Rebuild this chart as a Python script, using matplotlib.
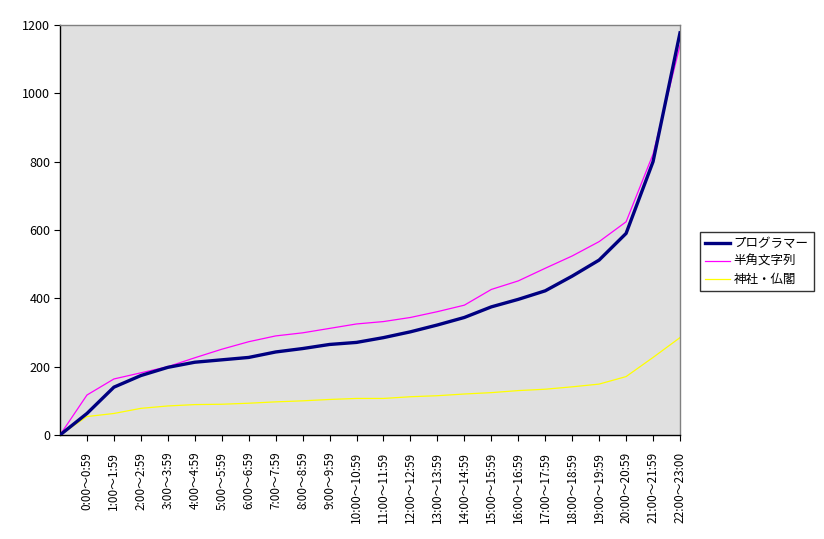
import matplotlib
matplotlib.use("Agg")
import matplotlib.pyplot as plt

plt.rcParams['font.family'] = ['Noto Sans CJK JP', 'DejaVu Sans']

categories = ["", "0:00～0:59", "1:00～1:59", "2:00～2:59", "3:00～3:59", "4:00～4:59",
              "5:00～5:59", "6:00～6:59", "7:00～7:59", "8:00～8:59", "9:00～9:59",
              "10:00～10:59", "11:00～11:59", "12:00～12:59", "13:00～13:59",
              "14:00～14:59", "15:00～15:59", "16:00～16:59", "17:00～17:59",
              "18:00～18:59", "19:00～19:59", "20:00～20:59", "21:00～21:59",
              "22:00～23:00"]

programmer = [0, 63, 140, 174, 198, 213, 220, 227, 243, 253, 265, 271, 285, 302, 322,
              344, 375, 397, 422, 465, 512, 590, 800, 1177]
hankaku = [0, 117, 164, 182, 200, 226, 251, 273, 290, 299, 312, 325, 332, 344, 361,
           380, 426, 451, 488, 524, 566, 624, 822, 1140]
jinja = [0, 54, 63, 78, 85, 89, 90, 93, 97, 100, 104, 107, 107, 112, 115,
         120, 124, 130, 134, 141, 149, 171, 227, 285]

series_names = ["プログラマー", "半角文字列", "神社・仏閣"]

fig = plt.figure(figsize=(8.24, 5.39), dpi=100)
ax = fig.add_axes([60/824, 1 - 435/539, 620/824, 410/539])
ax.set_facecolor('#E0E0E0')

x = list(range(len(categories)))
ax.plot(x, programmer, color='#000080', lw=2.4, label=series_names[0], zorder=3)
ax.plot(x, hankaku, color='#FF00FF', lw=0.9, label=series_names[1], zorder=2)
ax.plot(x, jinja, color='#FFFF00', lw=0.9, label=series_names[2], zorder=2)

ax.set_xlim(0, len(categories) - 1)
ax.set_ylim(0, 1200)
ax.set_yticks(range(0, 1201, 200))
ax.set_xticks(x[1:])
ax.set_xticklabels(categories[1:], rotation=90, fontsize=8.5)
ax.tick_params(axis='y', labelsize=9, length=4, direction='out', pad=3)
ax.tick_params(axis='x', length=4, direction='out', pad=8)

for s in ['top', 'right']:
    ax.spines[s].set_color('#808080')
    ax.spines[s].set_linewidth(1)
for s in ['left', 'bottom']:
    ax.spines[s].set_color('black')
    ax.spines[s].set_linewidth(1)

handles, labels = ax.get_legend_handles_labels()
leg = fig.legend(handles, labels, loc='upper left',
                 bbox_to_anchor=(700/824, 1 - 232/539), borderaxespad=0,
                 frameon=True, fancybox=False, edgecolor='black', fontsize=9,
                 handlelength=2.0, borderpad=0.4, labelspacing=0.4, handletextpad=0.3)
leg.get_frame().set_linewidth(1)

fig.savefig("out.png", dpi=100)
